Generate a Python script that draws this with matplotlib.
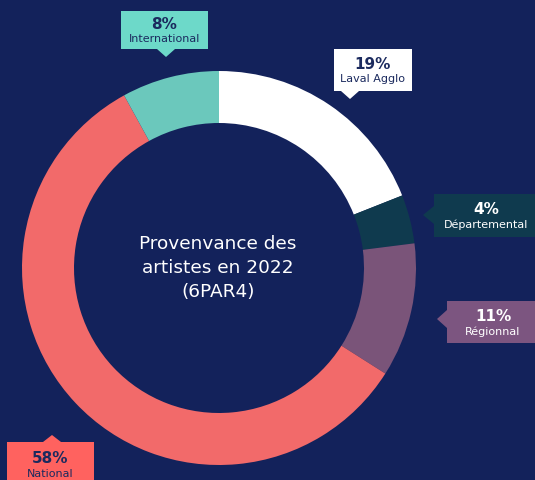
import matplotlib
matplotlib.use("Agg")
import matplotlib.pyplot as plt
from matplotlib.patches import Polygon

# data
labels = ["Laval Agglo", "Départemental", "Régionnal", "National", "International"]
values = [19, 4, 11, 58, 8]
pct_text = ["19%", "4%", "11%", "58%", "8%"]
slice_colors = ["#FFFFFF", "#0F3A4E", "#7A5479", "#F26A6A", "#6BC8BC"]
box_colors = ["#FFFFFF", "#0F3A4E", "#7C5580", "#FF625F", "#6DD9C9"]
text_colors = ["#1B2A5E", "#FFFFFF", "#FFFFFF", "#1B2A5E", "#1B2A5E"]
title = "Provenvance des\nartistes en 2022\n(6PAR4)"

bg = "#13225B"
W, H = 535, 481

fig = plt.figure(figsize=(W / 100, H / 100), dpi=100, facecolor=bg)
ax = fig.add_axes([0, 0, 1, 1])
ax.set_facecolor(bg)

cx, cy = 219, H - 269
ax.pie(values, colors=slice_colors, startangle=90, counterclock=False,
       radius=197, center=(cx, cy),
       wedgeprops=dict(width=52, linewidth=0))

ax.text(cx - 1, H - 268, title, ha="center", va="center", color="white",
        fontsize=13.3, linespacing=1.4, family="DejaVu Sans")

# callout boxes: (x0, top, x1, bottom), arrow side, arrow tip (px coords)
boxes = [
    ((334, 50, 412, 92), "down", (350, 100)),
    ((434, 195, 540, 238), "left", (423, 216)),
    ((447, 302, 540, 344), "left", (437, 320)),
    ((7, 443, 94, 488), "up", (52, 436)),
    ((121, 12, 208, 50), "down", (166, 58)),
]
aw = 9
for i, ((x0, t, x1, b), side, (tx, ty)) in enumerate(boxes):
    if side == "down":
        pts = [(x0, t), (x1, t), (x1, b), (tx + aw, b), (tx, ty), (tx - aw, b), (x0, b)]
    elif side == "up":
        pts = [(x0, t), (tx - aw, t), (tx, ty), (tx + aw, t), (x1, t), (x1, b), (x0, b)]
    else:
        pts = [(x0, t), (x1, t), (x1, b), (x0, b), (x0, ty + aw), (tx, ty), (x0, ty - aw)]
    ax.add_patch(Polygon([(x, H - y) for x, y in pts], closed=True,
                         fc=box_colors[i], ec="none", zorder=3))
    mx = (x0 + min(x1, W)) / 2
    if x1 > W:
        mx += 2
    my = (t + b) / 2 + 1
    ax.text(mx, H - (my - 7.5), pct_text[i], ha="center", va="center",
            color=text_colors[i], fontsize=11, fontweight="bold", zorder=4)
    ax.text(mx, H - (my + 7.5), labels[i], ha="center", va="center",
            color=text_colors[i], fontsize=8, zorder=4)

ax.set_xlim(0, W)
ax.set_ylim(0, H)
ax.set_aspect("auto")
ax.axis("off")

fig.savefig("out.png", dpi=100, facecolor=bg)
